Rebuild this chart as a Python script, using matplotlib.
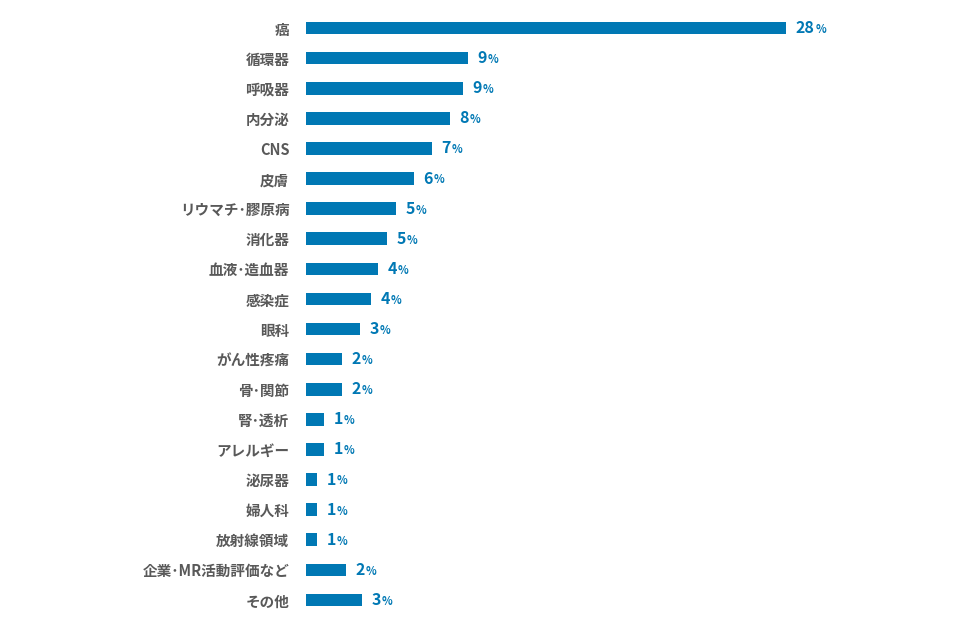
import matplotlib
matplotlib.use("Agg")
import matplotlib.pyplot as plt

categories = ["癌","循環器","呼吸器","内分泌","CNS","皮膚","リウマチ･膠原病","消化器","血液･造血器","感染症",
              "眼科","がん性疼痛","骨･関節","腎･透析","アレルギー","泌尿器","婦人科","放射線領域","企業･MR活動評価など","その他"]
values = [28.0,9.45,9.16,8.4,7.35,6.3,5.25,4.73,4.2,3.8,3.15,2.1,2.1,1.05,1.05,0.64,0.64,0.64,2.33,3.27]
labels = [28,9,9,8,7,6,5,5,4,4,3,2,2,1,1,1,1,1,2,3]

plt.rcParams["font.family"] = ["Noto Sans CJK JP"]
fig = plt.figure(figsize=(9.58,6.28), dpi=100)
ax = fig.add_axes([306/958, 13/628, 594/958, 602/628])
y = list(range(len(categories)))
ax.barh(y, values, height=0.42, color="#0078b4")
ax.set_ylim(len(categories)-0.5, -0.5)
ax.set_xlim(0, 28*594/480)
ax.set_yticks(y)
ax.set_yticklabels(categories, fontsize=10.5, fontweight="bold", color="#595959")
ax.tick_params(axis="y", length=0, pad=12)
ax.set_xticks([])
for s in ax.spines.values():
    s.set_visible(False)
for yi, v, l in zip(y, values, labels):
    ax.annotate(f"{l}", (v, yi), xytext=(7, 0), textcoords="offset points", va="center", ha="left",
                fontsize=11.5, fontweight="bold", color="#0078b4")
    ax.annotate("%", (v, yi), xytext=(7 + 7.2*len(str(l)), -1), textcoords="offset points", va="center", ha="left",
                fontsize=8, fontweight="bold", color="#0078b4")
fig.savefig("out.png", dpi=100)
